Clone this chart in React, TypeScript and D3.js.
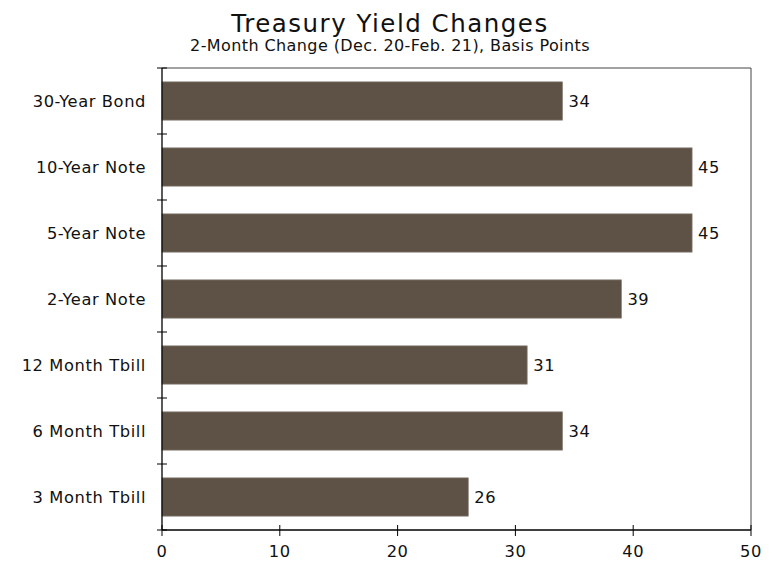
import React from "react";
import * as d3 from "d3";

const categories = ["30-Year Bond", "10-Year Note", "5-Year Note", "2-Year Note", "12 Month Tbill", "6 Month Tbill", "3 Month Tbill"];
const values = [34, 45, 45, 39, 31, 34, 26];
const xTicks = [0, 10, 20, 30, 40, 50];

const W = 777, H = 562;
const left = 162, right = 751, top = 68, bottom = 530;
const font = "'DejaVu Sans', Verdana, sans-serif";

export default function App() {
  const x = d3.scaleLinear().domain([0, 50]).range([left, right]);
  const y = d3.scaleBand().domain(categories).range([top, bottom]).paddingInner(0.42).paddingOuter(0.21);
  const step = y.step();
  const fs = 16.3;
  const ls = 0.6;
  return (
    <svg width={W} height={H} style={{ position: "absolute", left: 0, top: 0 }} fontFamily={font}>
      <rect width={W} height={H} fill="#fff" />
      <text x={390} y={32} textAnchor="middle" fontSize={24.5} letterSpacing={1.5} fill="#111">Treasury Yield Changes</text>
      <text x={390} y={51} textAnchor="middle" fontSize={16} letterSpacing={0.4} fill="#111">2-Month Change (Dec. 20-Feb. 21), Basis Points</text>
      {categories.map((c, i) => (
        <g key={c}>
          <rect x={x(0)} y={y(c)!} width={x(values[i]) - x(0)} height={y.bandwidth()} fill="#5e5246" stroke="#8a8078" strokeWidth={0.7} />
          <text x={x(values[i]) + 6} y={y(c)! + y.bandwidth() / 2} dy="0.35em" fontSize={fs} letterSpacing={ls} fill="#111">{values[i]}</text>
          <text x={left - 16} y={y(c)! + y.bandwidth() / 2} dy="0.35em" textAnchor="end" fontSize={fs} letterSpacing={ls} fill="#111">{c}</text>
        </g>
      ))}
      <path d={`M${left},${top}H${right}V${bottom}`} fill="none" stroke="#444" strokeWidth={1} />
      <line x1={left} x2={left} y1={top} y2={bottom} stroke="#000" strokeWidth={1.3} />
      <line x1={left} x2={right} y1={bottom} y2={bottom} stroke="#000" strokeWidth={1.3} />
      {d3.range(categories.length + 1).map((i) => (
        <line key={i} x1={left - 5} x2={left + 5} y1={top + i * step} y2={top + i * step} stroke="#000" strokeWidth={1} />
      ))}
      {xTicks.map((t) => (
        <g key={t}>
          <line x1={x(t)} x2={x(t)} y1={bottom - 5} y2={bottom + 6} stroke="#000" strokeWidth={1} />
          <text x={x(t)} y={557} textAnchor="middle" fontSize={fs} letterSpacing={ls} fill="#111">{t}</text>
        </g>
      ))}
    </svg>
  );
}
